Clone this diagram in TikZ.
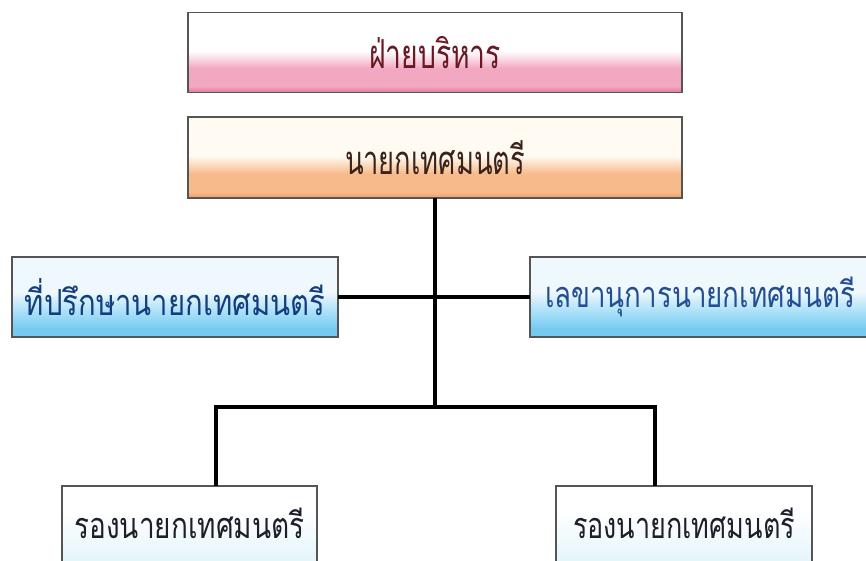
\documentclass[tikz,border=0pt]{standalone}
\usepackage{fontspec}
\usepackage{graphicx}
\newfontfamily\thaifont[Script=Thai]{Loma}
\definecolor{pinkD}{RGB}{226,118,156}
\definecolor{pinkM}{RGB}{242,168,192}
\definecolor{orangeD}{RGB}{240,158,102}
\definecolor{orangeM}{RGB}{247,186,138}
\definecolor{creamT}{RGB}{255,251,242}
\definecolor{blueD}{RGB}{118,202,240}
\definecolor{blueM}{RGB}{176,226,249}
\definecolor{blueTop}{RGB}{238,248,253}
\definecolor{paleD}{RGB}{225,244,250}
\definecolor{maroonT}{RGB}{105,25,35}
\definecolor{brownT}{RGB}{60,35,25}
\definecolor{navyT}{RGB}{18,62,125}
\definecolor{blueT}{RGB}{35,78,145}
\definecolor{darkT}{RGB}{30,30,45}
\definecolor{edge}{RGB}{85,85,85}
\pgfdeclareverticalshading{pinkgrad}{100bp}{color(0bp)=(pinkD); color(25bp)=(pinkD); color(29bp)=(pinkM); color(40bp)=(pinkM); color(51bp)=(white); color(100bp)=(white)}
\pgfdeclareverticalshading{orangegrad}{100bp}{color(0bp)=(orangeD); color(25bp)=(orangeD); color(29bp)=(orangeM); color(40bp)=(orangeM); color(51bp)=(creamT); color(100bp)=(creamT)}
\pgfdeclareverticalshading{bluegrad}{100bp}{color(0bp)=(blueD); color(25bp)=(blueD); color(30bp)=(blueD); color(42bp)=(blueM); color(53bp)=(blueTop); color(100bp)=(blueTop)}
\pgfdeclareverticalshading{palegrad}{100bp}{color(0bp)=(paleD); color(25bp)=(paleD); color(60bp)=(white); color(100bp)=(white)}
\tikzset{
  orgbox/.style={draw=edge, line width=1.1pt, inner sep=0pt, outer sep=0pt,
    font=\thaifont\fontsize{40}{44}\selectfont},
  smalltext/.style={font=\thaifont\fontsize{36}{40}\selectfont},
  link/.style={line width=3.6pt, draw=black},
}
\begin{document}
\begin{tikzpicture}[x=1pt,y=-1pt]
\useasboundingbox (0,0) rectangle (866,560);
\clip (0,0) rectangle (866,560);
\fill[white] (0,0) rectangle (866,560);
\node[orgbox, shading=pinkgrad, minimum width=494pt, minimum height=80pt, text=maroonT] (admin) at (435,52.5) {\resizebox{132pt}{\height}{ฝ่ายบริหาร}};
\node[orgbox, shading=orangegrad, minimum width=494pt, minimum height=81pt, text=brownT] (mayor) at (435,157.5) {\resizebox{180pt}{\height}{นายกเทศมนตรี}};
\node[orgbox, smalltext, shading=bluegrad, minimum width=326pt, minimum height=80pt, text=navyT] (adv) at (175,297) {\resizebox{300pt}{\height}{ที่ปรึกษานายกเทศมนตรี}};
\node[orgbox, smalltext, shading=bluegrad, minimum width=340pt, minimum height=80pt, text=blueT] (sec) at (700,297) {\resizebox{310pt}{\height}{เลขานุการนายกเทศมนตรี}};
\node[orgbox, smalltext, shading=palegrad, minimum width=255pt, minimum height=82pt, text=darkT] (dep1) at (189.5,527) {\raisebox{4pt}[\height][0pt]{\resizebox{230pt}{\height}{รองนายกเทศมนตรี}}};
\node[orgbox, smalltext, shading=palegrad, minimum width=256pt, minimum height=82pt, text=darkT] (dep2) at (684,527) {\raisebox{4pt}[\height][0pt]{\resizebox{222pt}{\height}{รองนายกเทศมนตรี}}};
\coordinate (split) at (435,407);
\coordinate (lt) at (216,407);
\coordinate (rt) at (655,407);
\draw[link] (mayor.south) -- (split);
\draw[link] (adv.east) -- (sec.west);
\draw[link] (dep1.north -| lt) -- (lt) -- (rt) -- (dep2.north -| rt);
\end{tikzpicture}
\end{document}
